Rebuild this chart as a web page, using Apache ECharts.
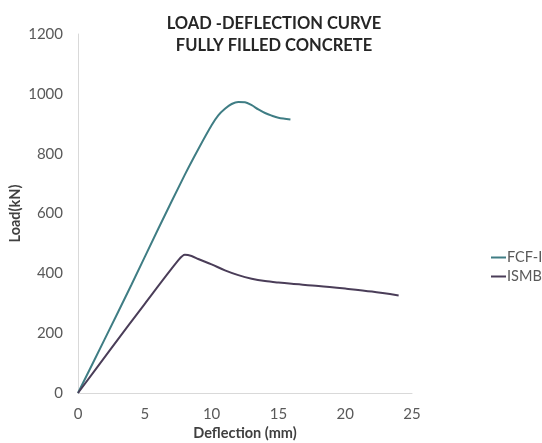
<!DOCTYPE html>
<html>
<head>
<meta charset="utf-8">
<script src="https://cdn.jsdelivr.net/npm/echarts@6/dist/echarts.min.js"></script>
<style>
  html, body { margin: 0; padding: 0; background: #fff; }
  #main { width: 542px; height: 443px; }
</style>
</head>
<body>
<div id="main"></div>
<script>
// deflection (mm), load (kN)
var fcfDeflection = [0, 2, 4, 6, 8, 9, 10, 10.5, 11, 11.5, 12, 12.5, 13, 13.5, 14, 14.5, 15, 15.9];
var fcfLoad       = [0, 180, 362, 548, 730, 815, 895, 928, 950, 966, 973, 972, 962, 948, 936, 927, 920, 914];

var ismbDeflection = [0, 2.5, 5, 7.5, 8, 8.5, 9, 10, 11, 12, 13, 14, 15, 16, 18, 20, 22, 24];
var ismbLoad       = [0, 150, 298, 443, 462, 458, 448, 430, 410, 394, 382, 374, 369, 365, 358, 349, 339, 326];

var seriesNames = ['FCF-ISMB', 'ISMB'];
var xTicks = { min: 0, max: 25, step: 5 };
var yTicks = { min: 0, max: 1200, step: 200 };

function pairs(xs, ys) {
    return xs.map(function (x, i) { return [x, ys[i]]; });
}

var myChart = echarts.init(document.getElementById('main'));

var option = {
    animation: false,
    title: {
        text: 'LOAD -DEFLECTION CURVE\nFULLY FILLED CONCRETE',
        left: 269,
        top: 8,
        textAlign: 'center',
        textStyle: {
            fontFamily: 'Lato',
            fontWeight: 'bold',
            fontSize: 16.5,
            lineHeight: 22,
            color: '#262626'
        }
    },
    grid: { left: 78, right: 130, top: 34, bottom: 50, outerBoundsMode: 'none', containLabel: false },
    legend: {
        orient: 'vertical',
        left: 486,
        top: 245,
        itemWidth: 15,
        itemHeight: 2,
        itemGap: 4,
        icon: 'rect',
        textStyle: { fontFamily: 'Lato', fontSize: 14.5, color: '#595959', padding: [0, 0, 0, -4] },
        data: seriesNames
    },
    xAxis: {
        type: 'value',
        min: xTicks.min,
        max: xTicks.max,
        interval: xTicks.step,
        name: 'Deflection (mm)',
        nameLocation: 'middle',
        nameGap: 33,
        nameMoveOverlap: false,
        nameTextStyle: { fontFamily: 'Lato', fontWeight: 'bold', fontSize: 14.5, color: '#404040' },
        axisLine: { lineStyle: { color: '#d9d9d9', width: 1 } },
        axisTick: { show: false },
        splitLine: { show: false },
        axisLabel: { fontFamily: 'Lato', fontSize: 15, color: '#595959', margin: 14 }
    },
    yAxis: {
        type: 'value',
        min: yTicks.min,
        max: yTicks.max,
        interval: yTicks.step,
        name: 'Load(kN)',
        nameLocation: 'middle',
        nameGap: 55,
        nameMoveOverlap: false,
        nameTextStyle: { fontFamily: 'Lato', fontWeight: 'bold', fontSize: 14.5, color: '#404040' },
        axisLine: { show: true, lineStyle: { color: '#d9d9d9', width: 1 } },
        axisTick: { show: false },
        splitLine: { show: false },
        axisLabel: {
            fontFamily: 'Lato', fontSize: 15, color: '#595959', margin: 15,
            formatter: function (v) { return String(v); }
        }
    },
    series: [{
        name: seriesNames[0],
        type: 'line',
        smooth: 0.3,
        showSymbol: false,
        lineStyle: { color: '#3f7d84', width: 2 },
        itemStyle: { color: '#3f7d84' },
        data: pairs(fcfDeflection, fcfLoad)
    }, {
        name: seriesNames[1],
        type: 'line',
        smooth: 0.3,
        showSymbol: false,
        lineStyle: { color: '#4a3d58', width: 2 },
        itemStyle: { color: '#4a3d58' },
        data: pairs(ismbDeflection, ismbLoad)
    }]
};

myChart.setOption(option);
</script>
</body>
</html>
